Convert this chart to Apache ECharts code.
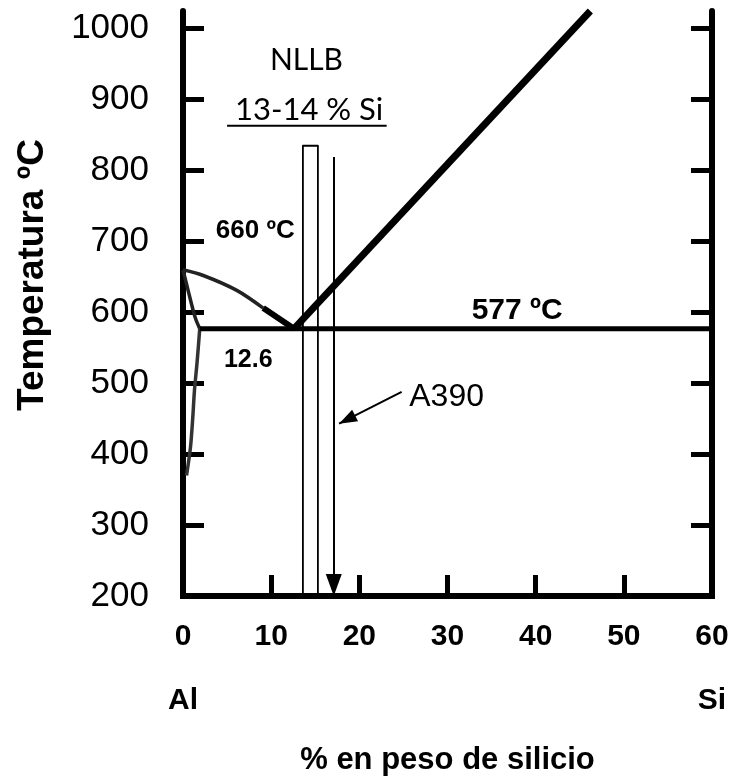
<!DOCTYPE html>
<html>
<head>
<meta charset="utf-8">
<script src="https://cdn.jsdelivr.net/npm/echarts/dist/echarts.min.js"></script>
<style>
  html, body { margin: 0; padding: 0; background: #fff; }
  #chart { width: 736px; height: 781px; }
</style>
</head>
<body>
<div id="chart"></div>
<script>
// ---- data ----
const xTicks = [0, 10, 20, 30, 40, 50, 60];
const yTicks = [200, 300, 400, 500, 600, 700, 800, 900, 1000];

// liquidus on the Al side (upper, thinner part and lower, thick part)
const liqAlUpperX = [0, 2.3, 6.1, 9.1];
const liqAlUpperT = [660, 652, 631, 606];
const liqAlLowerX = [9.1, 12.6];
const liqAlLowerT = [606, 577];
// solidus and solvus of the Al-rich phase
const solidusX = [0, 0.4, 0.9, 1.4, 1.9];
const solidusT = [660, 640, 615, 592, 577];
const solvusX = [1.9, 1.6, 1.3, 1.1, 0.85, 0.4];
const solvusT = [577, 530, 490, 450, 410, 370];
// liquidus on the Si side
const liqSiX = [12.6, 46.2];
const liqSiT = [577, 1025];
// eutectic isotherm
const eutX = [1.9, 60];
const eutT = [577, 577];
// NLLB band (13-14 % Si)
const nllbX = [13.6, 13.6, 15.3, 15.3];
const nllbT = [200, 835, 835, 200];
const nllbUnderlineX = [5.0, 23.1];
const nllbUnderlineT = [863, 863];
// A390 composition arrow
const a390X = [17.1, 17.1];
const a390T = [819, 200];
// pointer arrow from the "A390" text
const pointerX = [24.8, 17.7];
const pointerT = [488, 443];

// text annotations
const noteTexts = ['NLLB', '13-14 % Si', '660 ºC', '12.6', '577 ºC', 'A390'];
const noteX = [14.0, 14.3, 8.2, 7.4, 37.9, 29.9];
const noteT = [956, 885, 715, 533, 603, 481];

// ---- chart ----
const zip = (xs, ys) => xs.map((x, i) => [x, ys[i]]);
const chart = echarts.init(document.getElementById('chart'), null, { renderer: 'canvas' });

const noteStyles = [
  { fontFamily: 'Lato', fontSize: 30, fontWeight: 'normal' },
  { fontFamily: 'Lato', fontSize: 31, fontWeight: 'normal' },
  { fontFamily: 'Liberation Sans', fontSize: 26, fontWeight: 'bold' },
  { fontFamily: 'Liberation Sans', fontSize: 25, fontWeight: 'bold' },
  { fontFamily: 'Liberation Sans', fontSize: 30, fontWeight: 'bold' },
  { fontFamily: 'Liberation Sans', fontSize: 32, fontWeight: 'normal' }
];

function lineSeries(data, width, color) {
  return {
    type: 'line', data: data, symbol: 'none', clip: false, silent: true,
    lineStyle: { color: color || '#000', width: width, cap: 'butt', join: 'round' },
    animation: false, z: 3
  };
}

function arrowSeries(xs, ts, size) {
  return {
    type: 'line', data: [], silent: true, animation: false,
    markLine: {
      silent: true, animation: false,
      symbol: ['none', 'triangle'], symbolSize: size,
      lineStyle: { color: '#000', width: 2, type: 'solid' },
      label: { show: false },
      data: [[
        { coord: [xs[0], ts[0]], symbolOffset: [0, 0] },
        { coord: [xs[1], ts[1]], symbolOffset: [0, size[1] / 2] }
      ]]
    }
  };
}

const series = [
  Object.assign(lineSeries(zip(liqAlUpperX, liqAlUpperT), 3.5, '#222'), { smooth: 0.3 }),
  lineSeries(zip(liqAlLowerX, liqAlLowerT), 6),
  Object.assign(lineSeries(zip(solidusX, solidusT), 3.5, '#222'), { smooth: 0.3 }),
  Object.assign(lineSeries(zip(solvusX, solvusT), 3.5, '#333'), { smooth: 0.3 }),
  lineSeries(zip(liqSiX, liqSiT), 7),
  lineSeries(zip(eutX, eutT), 5),
  lineSeries(zip(nllbX, nllbT), 1.8),
  lineSeries(zip(nllbUnderlineX, nllbUnderlineT), 2),
  arrowSeries(a390X, a390T, [16, 22]),
  arrowSeries(pointerX, pointerT, [13, 18])
];

noteTexts.forEach((t, i) => {
  series.push({
    type: 'scatter', silent: true, animation: false, symbolSize: 1,
    itemStyle: { color: 'rgba(0,0,0,0)' },
    data: [[noteX[i], noteT[i]]],
    label: Object.assign({
      show: true, position: 'inside', formatter: t, color: '#000', opacity: 1
    }, noteStyles[i]),
    z: 5
  });
});

const axisLineStyle = { color: '#000', width: 6 };
const tickStyle = { color: '#000', width: 5 };

chart.setOption({
  backgroundColor: '#fff',
  animation: false,
  grid: { left: 183, right: 24, top: 11, bottom: 185, containLabel: false, outerBoundsMode: 'none' },
  xAxis: {
    type: 'value', min: 0, max: 60, interval: 10,
    axisLine: { show: true, lineStyle: Object.assign({ cap: 'square' }, axisLineStyle) },
    axisTick: { show: true, inside: true, length: 21, lineStyle: tickStyle },
    splitLine: { show: false },
    axisLabel: {
      show: true, margin: 25, color: '#000', fontFamily: 'Liberation Sans',
      fontSize: 30, fontWeight: 'bold', lineHeight: 32,
      formatter: function (v) {
        if (v === xTicks[0]) return v + '\n\nAl';
        if (v === xTicks[xTicks.length - 1]) return v + '\n\nSi';
        return String(v);
      }
    },
    name: '% en peso de silicio', nameLocation: 'middle', nameGap: 149,
    nameTextStyle: { color: '#000', fontFamily: 'Liberation Sans', fontSize: 31, fontWeight: 'bold' }
  },
  yAxis: [
    {
      type: 'value', min: 200, max: 1025, position: 'left',
      axisLine: { show: true, onZero: false, lineStyle: axisLineStyle },
      axisTick: { show: true, inside: true, length: 21, lineStyle: tickStyle, customValues: yTicks },
      splitLine: { show: false },
      axisLabel: {
        show: true, margin: 34, color: '#000', fontFamily: 'Liberation Sans',
        fontSize: 35, customValues: yTicks,
        formatter: function (v) { return String(v); }
      },
      name: 'Temperatura ºC', nameLocation: 'middle', nameGap: 132,
      nameTextStyle: {
        color: '#000', fontFamily: 'Liberation Sans', fontSize: 37, fontWeight: 'bold',
        padding: [0, 0, 0, 57]
      }
    },
    {
      type: 'value', min: 200, max: 1025, position: 'right',
      axisLine: { show: true, onZero: false, lineStyle: axisLineStyle },
      axisTick: { show: true, inside: true, length: 21, lineStyle: tickStyle, customValues: yTicks },
      splitLine: { show: false },
      axisLabel: { show: false }
    }
  ],
  series: series
});
</script>
</body>
</html>
